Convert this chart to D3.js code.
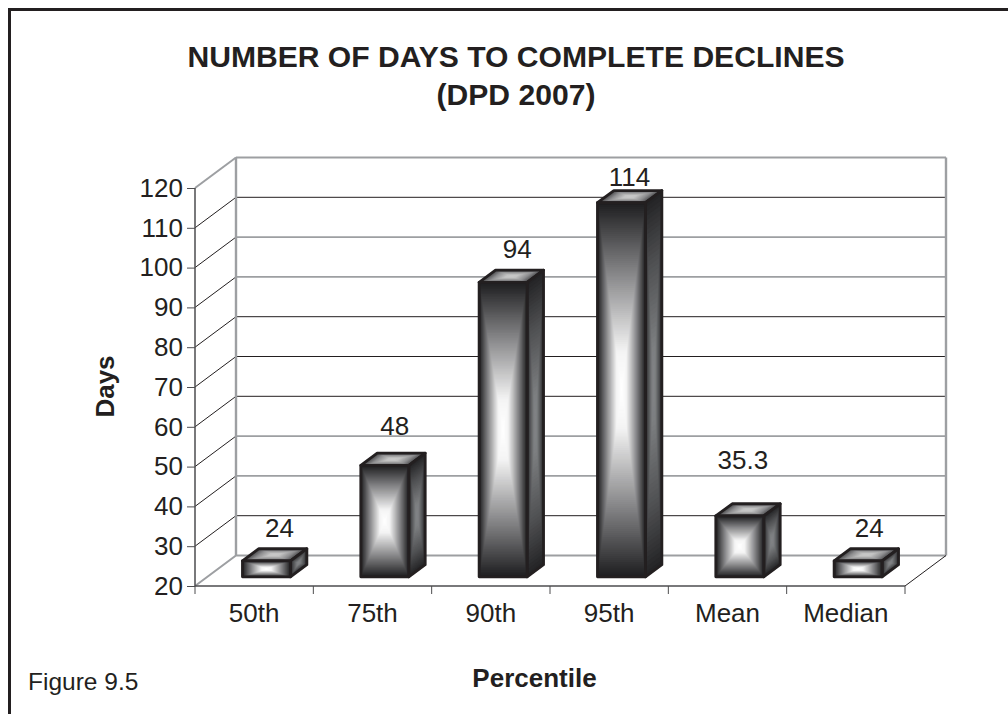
<!DOCTYPE html>
<html><head><meta charset="utf-8">
<script src="https://cdn.jsdelivr.net/npm/d3@7/dist/d3.min.js"></script>
<style>html,body{margin:0;padding:0;background:#fff}svg{display:block}text{font-family:"Liberation Sans",Arial,sans-serif;fill:#231f20}</style>
</head><body><svg id="c" width="1008" height="714"></svg>
<script>
const categories = ["50th","75th","90th","95th","Mean","Median"];
const values = [24,48,94,114,35.3,24];
const valueLabels = ["24","48","94","114","35.3","24"];
const yTicks = [20,30,40,50,60,70,80,90,100,110,120];
const darkGrid = [30,60,70,80,110];
const titleLines = ["NUMBER OF DAYS TO COMPLETE DECLINES","(DPD 2007)"];

const svg = d3.select("#c");
const ink = "#231f20", wall = "#9d9fa2", axisInk = "#4d4d4f";
const x = d3.scaleBand().domain(categories).range([195,905]);
const y = d3.scaleLinear().domain([20,120]).range([586,188]);
const DX = 41, DY = -30.5;
const FONT = '"Liberation Sans",Arial,sans-serif';

svg.append("rect").attr("x",9.5).attr("y",9.5).attr("width",1100).attr("height",800)
   .attr("fill","#fff").attr("stroke",ink).attr("stroke-width",3);

// walls
const g = svg.append("g").attr("fill","none");
g.append("path").attr("stroke",wall).attr("stroke-width",2)
 .attr("d",`M195,${y(20)}L${195+DX},${y(20)+DY}H${905+DX}`);
yTicks.forEach(t=>{
  if(t===20) return;
  const isDark = darkGrid.includes(t);
  g.append("path").attr("stroke",t===120||!isDark?wall:ink).attr("stroke-width",t===120?2.2:(isDark?1:1.6))
   .attr("d",`M${195+DX},${y(t)+DY}H${905+DX}`);
  g.append("path").attr("stroke",t===120?wall:ink).attr("stroke-width",t===120?2:1)
   .attr("d",`M195,${y(t)}L${195+DX},${y(t)+DY}`);
});
g.append("path").attr("stroke",wall).attr("stroke-width",2.4)
 .attr("d",`M${195+DX},${y(120)+DY}V${y(20)+DY}M${905+DX},${y(120)+DY}V${y(20)+DY}`);
g.append("path").attr("stroke",ink).attr("stroke-width",1)
 .attr("d",`M905,${y(20)}L${905+DX},${y(20)+DY}`);

// axes
const yAxis = d3.axisLeft(y).tickValues(yTicks).tickSize(8).tickPadding(4);
const ya = svg.append("g").attr("transform","translate(195,0)").call(yAxis);
ya.select(".domain").attr("stroke",axisInk).attr("stroke-width",1.5).attr("d",`M0,${y(120)}V${y(20)}`);
ya.selectAll("line").attr("stroke",axisInk);
ya.selectAll("text").attr("font-size",26).attr("fill",ink).style("font-family",FONT);

const xAxis = d3.axisBottom(x).tickSize(0).tickPadding(18);
const xa = svg.append("g").attr("transform",`translate(0,${y(20)})`).call(xAxis);
xa.select(".domain").attr("stroke",axisInk).attr("stroke-width",1.5).attr("d","M195,0H905");
xa.selectAll("text").attr("font-size",26).attr("fill",ink).style("font-family",FONT);
xa.selectAll(".b").data(d3.range(categories.length+1)).enter().append("line")
  .attr("x1",i=>195+i*x.step()).attr("x2",i=>195+i*x.step()).attr("y1",0).attr("y2",8).attr("stroke",axisInk);

// bars
const inset = 0.3, depth = 0.4, bw = 48;
const labelNudgeX = [13,10,14,8,3,11];
const labelNudgeY = [12,18,12,5,35,12];
function nested(sel, pts, stops, n){
  const cx = d3.mean(pts,p=>p[0]), cy = d3.mean(pts,p=>p[1]);
  const col = d3.scaleLinear().domain([0,0.35,0.8,1]).range(stops).clamp(true);
  sel.selectAll(null).data(d3.range(n)).enter().append("polygon")
    .attr("points",i=>{const s=1-i/n; return pts.map(p=>[cx+(p[0]-cx)*s,cy+(p[1]-cy)*s].join(",")).join(" ");})
    .attr("fill",i=>col(i/(n-1))).attr("stroke","none");
  sel.append("polygon").attr("points",pts.map(p=>p.join(",")).join(" "))
    .attr("fill","none").attr("stroke",ink).attr("stroke-width",2.8).attr("stroke-linejoin","round");
}
categories.forEach((c,i)=>{
  const xc = x(c)+x.bandwidth()/2 + inset*DX;
  const l = xc-bw/2, r = xc+bw/2;
  const b = y(20)+inset*DY, t = b-(y(20)-y(values[i]));
  const dx = depth*DX, dy = depth*DY;
  const bar = svg.append("g");
  nested(bar.append("g"),[[l,t],[r,t],[r+dx,t+dy],[l+dx,t+dy]],["#4a4a4c","#8e8e90","#c4c4c4","#c8c8c8"],16);
  nested(bar.append("g"),[[r,t],[r+dx,t+dy],[r+dx,b+dy],[r,b]],["#242426","#4f5052","#7c7e80","#828487"],40);
  nested(bar.append("g"),[[l,t],[r,t],[r,b],[l,b]],["#1f1f21","#7f7f81","#f4f4f4","#ffffff"],90);
  svg.append("text").attr("x",xc+labelNudgeX[i]).attr("y",t+dy-labelNudgeY[i])
     .attr("text-anchor","middle").attr("font-size",26).text(valueLabels[i]);
});

// titles
svg.selectAll(".t").data(titleLines).enter().append("text").attr("class","t")
  .attr("x",516).attr("y",(d,i)=>67+i*38).attr("text-anchor","middle")
  .attr("font-size",30.1).attr("font-weight","bold").text(d=>d);
svg.append("text").attr("transform","translate(114,386.5) rotate(-90)").attr("text-anchor","middle")
  .attr("font-size",26).attr("font-weight","bold").text("Days");
svg.append("text").attr("x",534.5).attr("y",687).attr("text-anchor","middle")
  .attr("font-size",26).attr("font-weight","bold").text("Percentile");
svg.append("text").attr("x",28).attr("y",690).attr("font-size",24.5).text("Figure 9.5");
</script></body></html>
